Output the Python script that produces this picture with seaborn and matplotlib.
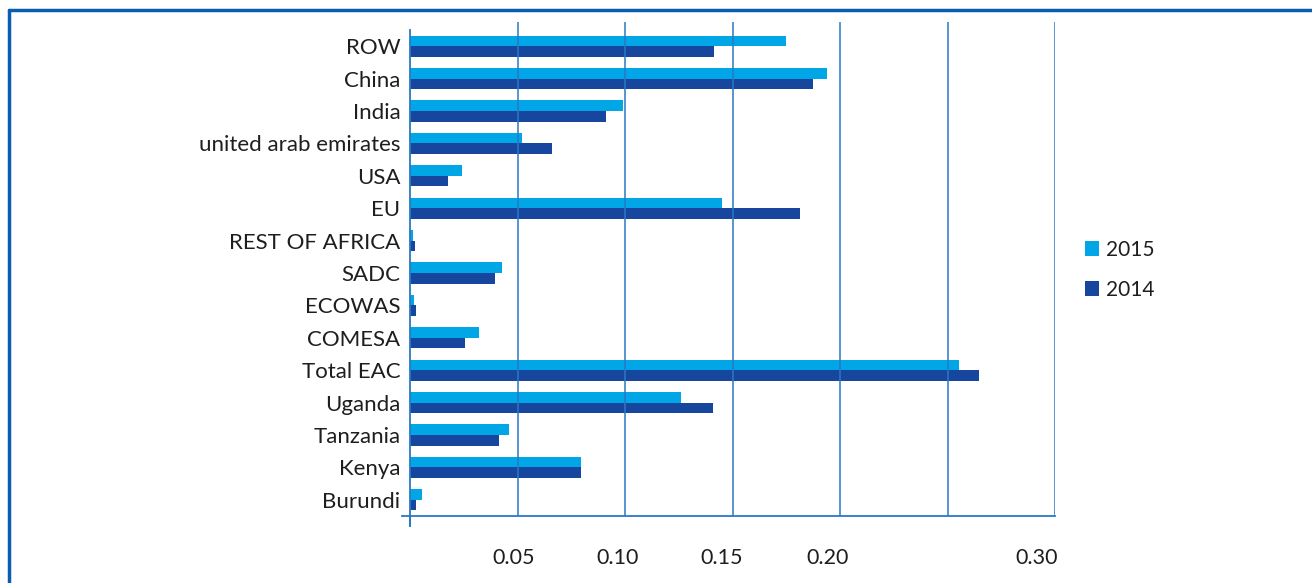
import matplotlib
matplotlib.use("Agg")
import matplotlib.pyplot as plt
import seaborn as sns
import pandas as pd
from matplotlib.lines import Line2D
from matplotlib.patches import Patch

categories = ["ROW", "China", "India", "united arab emirates", "USA", "EU",
              "REST OF AFRICA", "SADC", "ECOWAS", "COMESA", "Total EAC",
              "Uganda", "Tanzania", "Kenya", "Burundi"]
values_2015 = [0.175, 0.194, 0.099, 0.052, 0.024, 0.145, 0.0014, 0.043, 0.0019,
               0.032, 0.2555, 0.126, 0.046, 0.0795, 0.0057]
values_2014 = [0.1415, 0.1875, 0.091, 0.066, 0.0178, 0.1815, 0.0025, 0.0395, 0.0027,
               0.0258, 0.2645, 0.141, 0.0415, 0.0795, 0.0027]
years = ["2015", "2014"]
xticks = [0.05, 0.10, 0.15, 0.20, 0.25, 0.30]
xticklabels = ["0.05", "0.10", "0.15", "0.20", "", "0.30"]

light = "#00A6E6"
dark = "#17469E"
grid_c = "#2A78C4"

df = pd.DataFrame({
    "cat": categories * 2,
    "val": values_2015 + values_2014,
    "year": [years[0]] * len(categories) + [years[1]] * len(categories),
})

sns.set_theme(style="white")
plt.rcParams["font.family"] = ["Lato", "DejaVu Sans"]

fig = plt.figure(figsize=(13.12, 5.83), dpi=100)
W, H = 1312, 583
ax = fig.add_axes([410 / W, 1 - 516 / H, (1055 - 410) / W, (516 - 22) / H])

sns.barplot(data=df, x="val", y="cat", hue="year", hue_order=years,
            order=categories, palette=[light, dark], orient="h",
            width=0.66, saturation=1, ax=ax, legend=False, errorbar=None)

for p in ax.patches:
    p.set_edgecolor("none")
    p.set_zorder(2)

ax.set_xlim(0, 0.30)
ext = 8 / 32.4
ax.set_ylim(14.5, -0.5 - ext)
ax.set_xticks(xticks)
ax.set_xticklabels([])
label_shift = [-4, -7, -11, -12, 0, -18]  # px offsets as in the reference
for x, lab, dx in zip(xticks, xticklabels, label_shift):
    ax.annotate(lab, xy=(x, 0), xycoords=("data", "axes fraction"),
                xytext=(dx * 0.72, -23), textcoords="offset points",
                ha="center", va="top", fontsize=15.5, color="#1E1E1E")
for x in xticks:
    ax.axvline(x, color=grid_c, lw=1.1, zorder=3)

ax.set_yticks(range(len(categories)))
ax.set_yticklabels(categories, fontsize=16, color="#1E1E1E")
ax.tick_params(axis="y", length=0, pad=7)
ax.set_yticks([i - 0.5 for i in range(len(categories) + 1)], minor=True)
ax.tick_params(axis="y", which="minor", length=6, color=grid_c, width=1.1, direction="out")
ax.tick_params(axis="x", length=0)
ax.set_xlabel("")
ax.set_ylabel("")

for s in ["top", "right"]:
    ax.spines[s].set_visible(False)
ax.spines["bottom"].set_color(grid_c)
ax.spines["bottom"].set_linewidth(1.3)
ax.spines["left"].set_color(grid_c)
ax.spines["left"].set_linewidth(1.3)
ax.spines["left"].set_bounds(14.5 + 0.3, -0.5)
ax.spines["bottom"].set_bounds(-0.0035, 0.30)

ax.plot([0, 0], [14.5, 14.5 + 0.3], color=grid_c, lw=1.3, clip_on=False, zorder=4)

handles = [Patch(facecolor=light, edgecolor="none"), Patch(facecolor=dark, edgecolor="none")]
fig.legend(handles, years, loc="center left", bbox_to_anchor=(1066 / W, 1 - 270 / H),
           frameon=False, fontsize=15, handlelength=0.7, handleheight=0.7,
           handletextpad=0.3, labelspacing=0.96, labelcolor="#1E1E1E")

fig.add_artist(Line2D([8.5 / W, 1.0], [1 - 10 / H, 1 - 10 / H], color="#0A5DB0", lw=2.5))
fig.add_artist(Line2D([8.5 / W, 8.5 / W], [0, 1 - 10 / H], color="#0A5DB0", lw=2.5))

fig.savefig("out.png", dpi=100)
